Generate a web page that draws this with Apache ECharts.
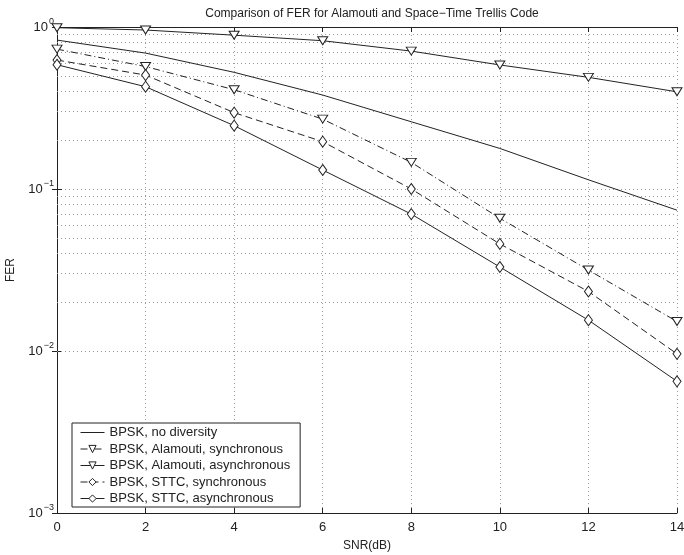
<!DOCTYPE html>
<html>
<head>
<meta charset="utf-8">
<script src="https://cdn.jsdelivr.net/npm/echarts@6/dist/echarts.min.js"></script>
<style>
  html, body { margin: 0; padding: 0; background: #fff; }
  #fer { width: 684px; height: 555px; }
</style>
</head>
<body>
<div id="fer"></div>
<script>
// SNR points (dB)
var snr = [0, 2, 4, 6, 8, 10, 12, 14];

// FER values
var noDiversity  = [0.83, 0.69, 0.525, 0.38, 0.26, 0.178, 0.114, 0.074];
var alamoutiSync = [0.73, 0.57, 0.41, 0.27, 0.146, 0.066, 0.0316, 0.0152];
var alamoutiAsyn = [0.99, 0.958, 0.89, 0.823, 0.71, 0.583, 0.489, 0.398];
var sttcSync     = [0.625, 0.505, 0.296, 0.196, 0.10, 0.0458, 0.0233, 0.0096];
var sttcAsyn     = [0.585, 0.428, 0.246, 0.131, 0.070, 0.033, 0.0155, 0.0065];

var names = ['BPSK, no diversity', 'BPSK, Alamouti, synchronous', 'BPSK, Alamouti, asynchronous',
             'BPSK, STTC, synchronous', 'BPSK, STTC, asynchronous'];

// minor grid lines of the log axis (2..9 in each decade)
var minorLines = [];
[0.001, 0.01, 0.1].forEach(function (d) {
    for (var k = 2; k <= 9; k++) minorLines.push({ yAxis: +(d * k).toPrecision(3) });
});

function pairs(ys) {
    var out = [];
    for (var i = 0; i < snr.length; i++) out.push([snr[i], ys[i]]);
    return out;
}

var FONT = 'Liberation Sans, Arial, Helvetica, sans-serif';
var INK = '#222';
var GRIDC = '#9a9a9a';

function mkSeries(name, ys, symbol, dash, size) {
    return {
        name: name,
        type: 'line',
        data: pairs(ys),
        symbol: symbol,
        symbolSize: size || 9,
        symbolRotate: symbol == 'triangle' ? 180 : 0,
        showSymbol: symbol != 'none',
        color: INK,
        lineStyle: { color: INK, width: 1, type: dash },
        itemStyle: { color: '#fff', borderColor: INK, borderWidth: 1 },
        emphasis: { disabled: true },
        z: 5
    };
}

var myChart = echarts.init(document.getElementById('fer'));
var option = {
    animation: false,
    backgroundColor: '#fff',
    textStyle: { fontFamily: FONT },
    title: {
        text: 'Comparison of FER for Alamouti and Space\u2212Time Trellis Code',
        left: 367, textAlign: 'center', top: 3,
        textStyle: { fontSize: 12, fontWeight: 'normal', color: INK, fontFamily: FONT }
    },
    grid: { left: 57, right: 7, top: 27, bottom: 42, outerBoundsMode: 'none' },
    legend: {
        data: [
            { name: names[0], itemStyle: { opacity: 0 } },
            names[1], names[2], names[3], names[4]
        ],
        orient: 'vertical',
        left: 72, top: 423,
        itemWidth: 24, itemHeight: 9, itemGap: 3.5,
        padding: [3, 10, 2, 8],
        lineStyle: { width: 1 },
        itemStyle: { borderWidth: 1 },
        backgroundColor: '#fff',
        borderColor: INK, borderWidth: 1, borderRadius: 0,
        textStyle: { fontSize: 13, color: INK, fontFamily: FONT }
    },
    xAxis: [{
        type: 'value', min: 0, max: 14, interval: 2,
        name: 'SNR(dB)', nameLocation: 'middle', nameGap: 27,
        nameTextStyle: { fontSize: 12, color: INK, fontFamily: FONT },
        axisLine: { lineStyle: { color: INK } },
        axisTick: { inside: true, length: 5, lineStyle: { color: INK } },
        axisLabel: { fontSize: 13, color: INK, margin: 8, fontFamily: FONT },
        splitLine: { show: true, lineStyle: { color: GRIDC, type: [1, 3] } }
    }, {
        type: 'value', min: 0, max: 14, interval: 2, position: 'top',
        axisLine: { show: true, lineStyle: { color: INK } },
        axisTick: { inside: true, length: 5, lineStyle: { color: INK } },
        axisLabel: { show: false }, splitLine: { show: false }
    }],
    yAxis: [{
        type: 'log', logBase: 10, min: 0.001, max: 1,
        name: 'FER', nameLocation: 'middle', nameGap: 40,
        nameTextStyle: { fontSize: 12, color: INK, fontFamily: FONT },
        axisLine: { show: true, lineStyle: { color: INK } },
        axisTick: { show: true, inside: true, length: 5, lineStyle: { color: INK } },
        axisLabel: {
            margin: 3, color: INK,
            formatter: function (v) {
                var e = Math.round(Math.log(v) / Math.LN10);
                return '{b|10}{s|' + (e < 0 ? '\u2212' + (-e) : e) + '}';
            },
            rich: {
                b: { fontSize: 13, color: INK, fontFamily: FONT },
                s: { fontSize: 9, color: INK, fontFamily: FONT, verticalAlign: 'bottom', padding: [0, 0, 10, 1] }
            }
        },
        splitLine: { show: true, lineStyle: { color: GRIDC, type: [1, 3] } }
    }, {
        type: 'log', logBase: 10, min: 0.001, max: 1, position: 'right',
        axisLine: { show: true, lineStyle: { color: INK } },
        axisTick: { show: true, inside: true, length: 5, lineStyle: { color: INK } },
        axisLabel: { show: false }, splitLine: { show: false }
    }],
    series: [
        mkSeries(names[0], noDiversity, 'none', 'solid'),
        mkSeries(names[1], alamoutiSync, 'triangle', [7, 3, 1, 3], [10, 8]),
        mkSeries(names[2], alamoutiAsyn, 'triangle', 'solid', [10, 8]),
        mkSeries(names[3], sttcSync, 'diamond', [7, 4], [8, 11]),
        mkSeries(names[4], sttcAsyn, 'diamond', 'solid', [8, 11]),
        {
            name: 'minor grid', type: 'line', data: [], silent: true, z: 1,
            markLine: {
                silent: true, symbol: 'none', animation: false,
                label: { show: false },
                lineStyle: { color: GRIDC, type: [1, 3], width: 1 },
                emphasis: { disabled: true },
                data: minorLines
            }
        }
    ]
};
myChart.setOption(option);
</script>
</body>
</html>
